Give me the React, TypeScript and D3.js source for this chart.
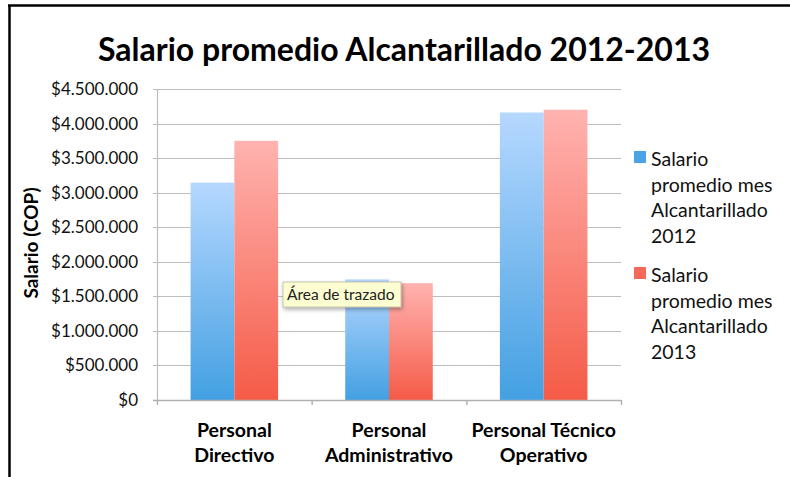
import React, { useEffect, useRef } from "react";
import * as d3 from "d3";

const categories = [
  ["Personal", "Directivo"],
  ["Personal", "Administrativo"],
  ["Personal Técnico", "Operativo"],
];
const seriesNames = ["2012", "2013"];
const legendLabels = [
  ["Salario", "promedio mes", "Alcantarillado", "2012"],
  ["Salario", "promedio mes", "Alcantarillado", "2013"],
];
const salario2012 = [3145000, 1745000, 4160000];
const salario2013 = [3750000, 1690000, 4200000];
const yTicks = [0, 500000, 1000000, 1500000, 2000000, 2500000, 3000000, 3500000, 4000000, 4500000];

const FONT = "Lato, 'Open Sans', sans-serif";

const App = () => {
  const ref = useRef(null);

  useEffect(() => {
    document.body.style.margin = "0";
    const svg = d3.select(ref.current);
    svg.selectAll("*").remove();

    const left = 157, right = 621, top = 89, bottom = 400;
    const y = d3.scaleLinear().domain([0, 4500000]).range([bottom, top]);
    const keys = categories.map(c => c.join(" "));
    const x = d3.scaleBand().domain(keys).range([left, right]).padding(0);
    const inner = d3
      .scaleBand()
      .domain(seriesNames)
      .range([x.bandwidth() * 0.217, x.bandwidth() * 0.783])
      .padding(0);

    const locale = d3.formatLocale({ decimal: ",", thousands: ".", grouping: [3], currency: ["$", ""] });
    const fmt = locale.format("$,");

    const defs = svg.append("defs");
    const grads = [
      ["gBlue", "#b6d8ff", "#43a0e2"],
      ["gRed", "#ffb3b0", "#f55b47"],
    ];
    grads.forEach(([id, c1, c2]) => {
      const g = defs.append("linearGradient").attr("id", id).attr("x1", 0).attr("y1", 0).attr("x2", 0).attr("y2", 1);
      g.append("stop").attr("offset", "0%").attr("stop-color", c1);
      g.append("stop").attr("offset", "100%").attr("stop-color", c2);
    });
    const shadow = defs.append("filter").attr("id", "tipShadow").attr("x", "-20%").attr("y", "-30%").attr("width", "150%").attr("height", "180%");
    shadow.append("feDropShadow").attr("dx", 1).attr("dy", 2).attr("stdDeviation", 2).attr("flood-opacity", 0.35);

    // frame
    svg.append("line").attr("x1", 8).attr("x2", 790).attr("y1", 5.5).attr("y2", 5.5).attr("stroke", "#000").attr("stroke-width", 2.5);
    svg.append("line").attr("x1", 9.5).attr("x2", 9.5).attr("y1", 5).attr("y2", 477).attr("stroke", "#000").attr("stroke-width", 2.5);

    // title
    svg.append("text")
      .attr("x", 404).attr("y", 61)
      .attr("text-anchor", "middle")
      .style("font-family", FONT).style("font-weight", "bold").style("font-size", "32px")
      .text("Salario promedio Alcantarillado 2012-2013");

    // gridlines
    svg.append("g").selectAll("line").data(yTicks).enter().append("line")
      .attr("x1", left - 4).attr("x2", right)
      .attr("y1", d => Math.round(y(d)) + 0.5).attr("y2", d => Math.round(y(d)) + 0.5)
      .attr("stroke", "#bdbdbd").attr("stroke-width", 1.2);

    // y axis labels
    svg.append("g").selectAll("text").data(yTicks).enter().append("text")
      .attr("x", 138).attr("y", d => y(d))
      .attr("dy", "0.35em")
      .attr("text-anchor", "end")
      .style("font-family", FONT).style("font-size", "17px").style("fill", "#111")
      .text(d => fmt(d));

    svg.append("text")
      .attr("transform", "translate(38 243) rotate(-90)")
      .attr("text-anchor", "middle")
      .style("font-family", FONT).style("font-weight", "bold").style("font-size", "19px")
      .text("Salario (COP)");

    // bars
    const values = [salario2012, salario2013];
    const fills = ["url(#gBlue)", "url(#gRed)"];
    seriesNames.forEach((s, si) => {
      svg.append("g").selectAll("rect").data(values[si]).enter().append("rect")
        .attr("x", (d, i) => x(keys[i]) + inner(s))
        .attr("y", d => y(d))
        .attr("width", inner.bandwidth())
        .attr("height", d => bottom - y(d))
        .attr("fill", fills[si]);
    });

    // axes lines
    svg.append("line").attr("x1", left + 0.5).attr("x2", left + 0.5).attr("y1", top).attr("y2", bottom)
      .attr("stroke", "#bdbdbd").attr("stroke-width", 1.2);
    svg.append("line").attr("x1", left - 4).attr("x2", right).attr("y1", bottom + 0.5).attr("y2", bottom + 0.5)
      .attr("stroke", "#b0b0b0").attr("stroke-width", 1.4);
    const xTicks = keys.map(k => x(k)).concat([right]);
    svg.append("g").selectAll("line").data(xTicks).enter().append("line")
      .attr("x1", d => d + 0.5).attr("x2", d => d + 0.5)
      .attr("y1", bottom).attr("y2", bottom + 5)
      .attr("stroke", "#b0b0b0").attr("stroke-width", 1.4);

    // x labels
    const xl = svg.append("g").selectAll("text").data(categories).enter().append("text")
      .attr("text-anchor", "middle")
      .style("font-family", FONT).style("font-weight", "bold").style("font-size", "19.5px")
      .attr("transform", (d, i) => `translate(${x(keys[i]) + x.bandwidth() / 2} 437)`);
    xl.selectAll("tspan").data(d => d).enter().append("tspan")
      .attr("x", 0).attr("dy", (d, i) => (i === 0 ? 0 : 25))
      .text(d => d);

    // legend
    const legendColors = ["#4aa3e6", "#f76a5a"];
    const lg = svg.append("g").selectAll("g").data(legendLabels).enter().append("g")
      .attr("transform", (d, i) => `translate(634 ${151 + i * 116})`);
    lg.append("rect").attr("width", 12).attr("height", 12).attr("fill", (d, i) => legendColors[i]);
    lg.append("text")
      .style("font-family", FONT).style("font-size", "19.5px").style("fill", "#111")
      .selectAll("tspan").data(d => d).enter().append("tspan")
      .attr("x", 17).attr("y", (d, i) => 15 + i * 25.5)
      .text(d => d);

    // tooltip
    const tip = svg.append("g").attr("transform", "translate(283 282)");
    tip.append("rect").attr("width", 118).attr("height", 25)
      .attr("fill", "#fdfdd2").attr("stroke", "#b9b9a0").attr("stroke-width", 0.8)
      .attr("filter", "url(#tipShadow)");
    tip.append("text").attr("x", 4).attr("y", 18)
      .style("font-family", FONT).style("font-size", "15.5px").style("fill", "#222")
      .text("Área de trazado");
  }, []);

  return (
    <div>
      <svg ref={ref} width={790} height={477} style={{ display: "block", background: "#fff" }} />
    </div>
  );
};

export default App;
